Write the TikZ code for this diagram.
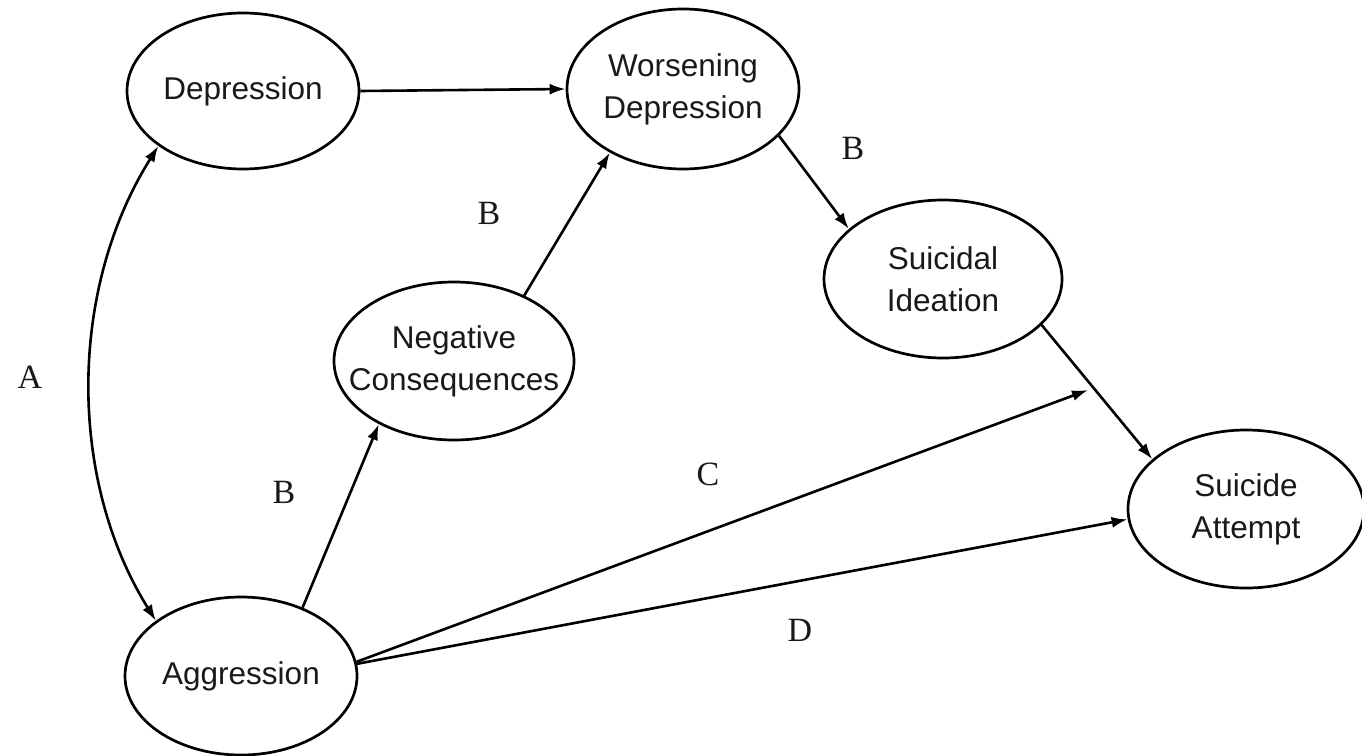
\documentclass[tikz,border=0pt]{standalone}
\usepackage{fontspec}
\setmainfont{Liberation Serif}
\newfontfamily\arialf{Liberation Sans}
\usetikzlibrary{shapes.geometric, arrows.meta}
\begin{document}
\begin{tikzpicture}[x=1pt, y=-1pt,
  ell/.style={ellipse, draw, line width=2.7pt, inner sep=0pt, minimum width=232pt, minimum height=158pt},
  ntext/.style={font=\arialf\fontsize{31.5}{42}\selectfont, align=center, text=black!90},
  lab/.style={font=\fontsize{34}{40}\selectfont, text=black!90},
  arr/.style={line width=2.6pt, -{Latex[length=16pt, width=11pt]}},
  biarr/.style={line width=2.6pt, {Latex[length=16pt, width=11pt]}-{Latex[length=16pt, width=11pt]}}]
\fill[white] (0,0) rectangle (1362,755);
\useasboundingbox (0,0) rectangle (1362,755);

% ellipses
\node[ell, minimum height=156pt] (dep) at (243,91) {};
\node[ell, minimum height=160pt] (wor) at (683,89) {};
\node[ell, minimum width=238pt] (sui) at (943,279) {};
\node[ell, minimum width=240pt] (neg) at (454,361) {};
\node[ell] (agg) at (241,676) {};
\node[ell, minimum width=236pt] (sa) at (1246,509) {};

% texts
\node[ntext] (tdep) at (dep) {Depression};
\node[ntext] (twor) at (wor) {Worsening\\Depression};
\node[ntext] (tsui) at (sui) {Suicidal\\Ideation};
\node[ntext] (tneg) at (neg) {Negative\\Consequences};
\node[ntext] (tagg) at (agg) {Aggression};
\node[ntext] (tsa) at (sa) {Suicide\\Attempt};

% connectors
\draw[arr] (dep.east) -- (wor.west);
\draw[arr] (neg.43) -- (wor.221);
\draw[arr] (wor.-26) -- (sui.152);
\draw[arr] (sui.-25) -- (sa.152);
\draw[arr] (agg.48) -- (neg.220);
\draw[biarr] (dep.213) .. controls (68,290) and (68,480) .. (agg.147);
\coordinate (cend) at (1088,390);
\draw[arr] (agg.7) -- (cend);
\draw[arr] (agg.6) -- (sa.185);

% labels
\node[lab] (la) at (30,377) {A};
\node[lab] (lb1) at (489,213) {B};
\node[lab] (lb2) at (284,492) {B};
\node[lab] (lb3) at (853,148) {B};
\node[lab] (lc) at (708,474) {C};
\node[lab] (ld) at (800,630) {D};
\end{tikzpicture}
\end{document}
